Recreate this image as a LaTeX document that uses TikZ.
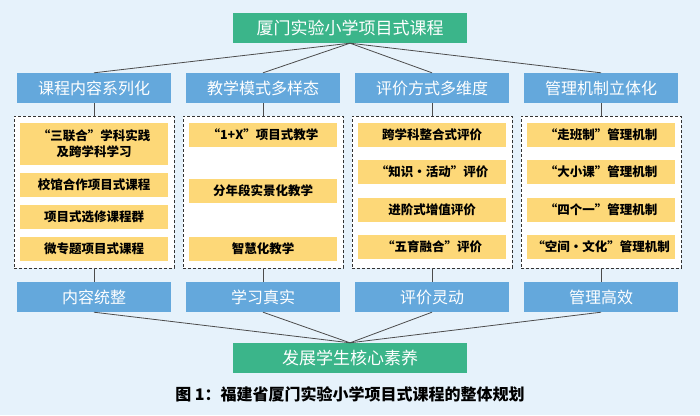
\documentclass[tikz,border=0pt]{standalone}
\usepackage{fontspec}
\setmainfont{Noto Sans CJK SC}
\begin{document}
\begin{tikzpicture}[x=1pt,y=-1pt,
 green/.style={fill=grn,text=white,minimum width=234pt,minimum height=30pt,inner sep=0pt,font=\fontsize{17}{17}\selectfont},
 head/.style={fill=hblue,text=white,minimum width=154pt,minimum height=30pt,inner sep=0pt,font=\fontsize{16}{16}\selectfont},
 item/.style={fill=ylw,minimum width=148pt,minimum height=24pt,inner sep=0pt,align=center,font=\bfseries\fontsize{12.5}{16}\selectfont},
 dbox/.style={draw=black!80,dash pattern=on 3pt off 2pt,fill=white,minimum width=160pt,minimum height=152pt,inner sep=0pt,line width=0.9pt},
 conn/.style={draw=black!70,line width=0.8pt}]
\definecolor{bg}{HTML}{E6F2FB}
\definecolor{grn}{HTML}{3BB58A}
\definecolor{hblue}{HTML}{64A8DC}
\definecolor{ylw}{HTML}{FDD878}
\fill[bg] (0,0) rectangle (700,415);
\node[green] (top) at (350,28) {厦门实验小学项目式课程};
\node[green] (bot) at (350,358) {发展学生核心素养};
\foreach \i/\x/\h/\b in {1/94/课程内容系列化/内容统整,2/263/教学模式多样态/学习真实,3/432/评价方式多维度/评价灵动,4/601/管理机制立体化/管理高效}{
  \node[head] (h\i) at (\x,88) {\h};
  \node[dbox] (d\i) at (\x,192) {};
  \node[head] (b\i) at (\x,297) {\b};
  \draw[conn] (top.south) -- (h\i.north);
  \draw[conn] (h\i.south) -- (d\i.north);
  \draw[conn] (d\i.south) -- (b\i.north);
  \draw[conn] (b\i.south) -- (bot.north);
}
\node[item,minimum height=42pt] (a1) at (94,144) {“三联合”学科实践\\及跨学科学习};
\node[item] (a2) at (94,185) {校馆合作项目式课程};
\node[item] (a3) at (94,217) {项目式选修课程群};
\node[item] (a4) at (94,249) {微专题项目式课程};
\node[item] (c1) at (263,135) {“1+X”项目式教学};
\node[item] (c2) at (263,191) {分年段实景化教学};
\node[item] (c3) at (263,249) {智慧化教学};
\node[item] (e1) at (432,135) {跨学科整合式评价};
\node[item] (e2) at (432,172) {“知识·活动”评价};
\node[item] (e3) at (432,210) {进阶式增值评价};
\node[item] (e4) at (432,247) {“五育融合”评价};
\node[item] (g1) at (601,135) {“走班制”管理机制};
\node[item] (g2) at (601,172) {“大小课”管理机制};
\node[item] (g3) at (601,210) {“四个一”管理机制};
\node[item] (g4) at (601,247) {“空间·文化”管理机制};
\node[font=\bfseries\fontsize{16}{16}\selectfont] (cap) at (350,394) {图 1：福建省厦门实验小学项目式课程的整体规划};
\end{tikzpicture}
\end{document}
